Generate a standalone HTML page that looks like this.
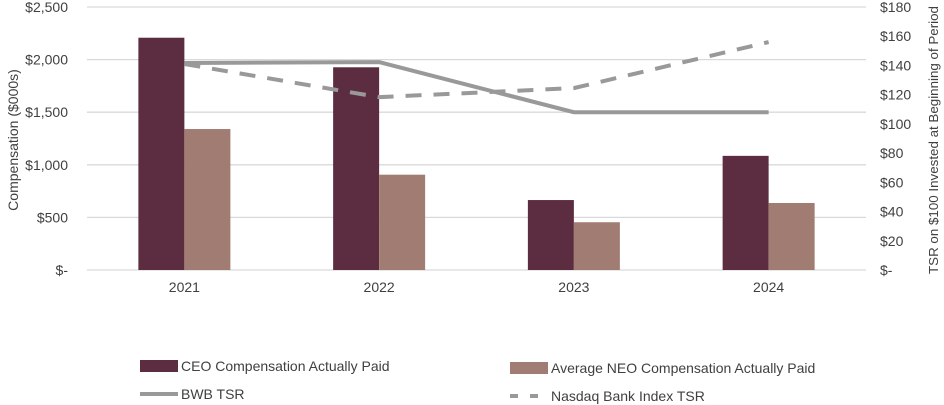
<!DOCTYPE html>
<html><head><meta charset="utf-8"><style>
html,body{margin:0;padding:0;background:#fff;}
svg{display:block;font-family:"Liberation Sans",sans-serif;}
</style></head><body>
<svg id="chart" width="944" height="405"></svg>
<script>
const categories=["2021","2022","2023","2024"];
const ceoPaid=[2208,1927,665,1085];
const neoPaid=[1340,906,454,637];
const bwbTsr=[141.7,142.3,108,108];
const nasdaqTsr=[141,118.3,124.5,156];
const leftTicks=[0,500,1000,1500,2000,2500];
const leftTickLabels=["$-","$500","$1,000","$1,500","$2,000","$2,500"];
const rightTicks=[0,20,40,60,80,100,120,140,160,180];
const rightTickLabels=["$-","$20","$40","$60","$80","$100","$120","$140","$160","$180"];

const NS="http://www.w3.org/2000/svg";
const svg=document.getElementById("chart");
const X0=87,X1=866,YT=7,YB=270;
const bw=(X1-X0)/categories.length;
const xc=i=>X0+bw*(i+0.5);
const yL=v=>YB-(v/2500)*(YB-YT);
const yR=v=>YB-(v/180)*(YB-YT);
function mk(tag,attrs,txt){const e=document.createElementNS(NS,tag);for(const k in attrs)e.setAttribute(k,attrs[k]);if(txt!==undefined)e.textContent=txt;svg.appendChild(e);return e;}

leftTicks.forEach((t,i)=>{
 const g=mk("line",{x1:X0,x2:X1,y1:yL(t),y2:yL(t),stroke:"#d9d9d9","stroke-width":1.3});
 
 
 const l=mk("text",{x:68,y:yL(t)+5,"text-anchor":"end","font-size":14,fill:"#404040"},leftTickLabels[i]);
 
 
});
rightTicks.forEach((t,i)=>{
 const l=mk("text",{x:880,y:yR(t)+5,"font-size":14,fill:"#404040"},rightTickLabels[i]);
 
 
});
const lt=mk("text",{transform:"translate(18,140) rotate(-90)","text-anchor":"middle","font-size":14,fill:"#404040"},"Compensation ($000s)");


const rt=mk("text",{transform:"translate(938,140) rotate(-90)","text-anchor":"middle","font-size":13,fill:"#404040",textLength:268,lengthAdjust:"spacingAndGlyphs"},"TSR on $100 Invested at Beginning of Period");



categories.forEach((c,i)=>{
 const b1=mk("rect",{x:xc(i)-46,y:yL(ceoPaid[i]),width:46,height:YB-yL(ceoPaid[i]),fill:"#5c2d40"});
 
 
 const b2=mk("rect",{x:xc(i),y:yL(neoPaid[i]),width:46,height:YB-yL(neoPaid[i]),fill:"#a07c72"});
 
 
 const t=mk("text",{x:xc(i),y:292,"text-anchor":"middle","font-size":14,fill:"#404040"},c);
 
 
});
const p1=mk("polyline",{points:bwbTsr.map((v,i)=>xc(i)+","+yR(v)).join(" "),fill:"none",stroke:"#999","stroke-width":4});


const p2=mk("polyline",{points:nasdaqTsr.map((v,i)=>xc(i)+","+yR(v)).join(" "),fill:"none",stroke:"#999","stroke-width":4,"stroke-dasharray":"16,12"});



function legend(name,x,y,kind,color,label){
 let s;
 if(kind==="rect") s=mk("rect",{x:x,y:y-6,width:38,height:12,fill:color});
 else s=mk("line",{x1:x,x2:x+38,y1:y,y2:y,stroke:color,"stroke-width":4,"stroke-dasharray":kind==="dash"?"8,12":"none"});
 
 
 const t=mk("text",{x:x+41,y:y+5,"font-size":14,fill:"#404040"},label);
 
 
}
legend("legend-ceo",140,366,"rect","#5c2d40","CEO Compensation Actually Paid");
legend("legend-neo",510,368,"rect","#a07c72","Average NEO Compensation Actually Paid");
legend("legend-bwb",140,394,"line","#999","BWB TSR");
legend("legend-nasdaq",510,396,"dash","#999","Nasdaq Bank Index TSR");
</script>
</body></html>
